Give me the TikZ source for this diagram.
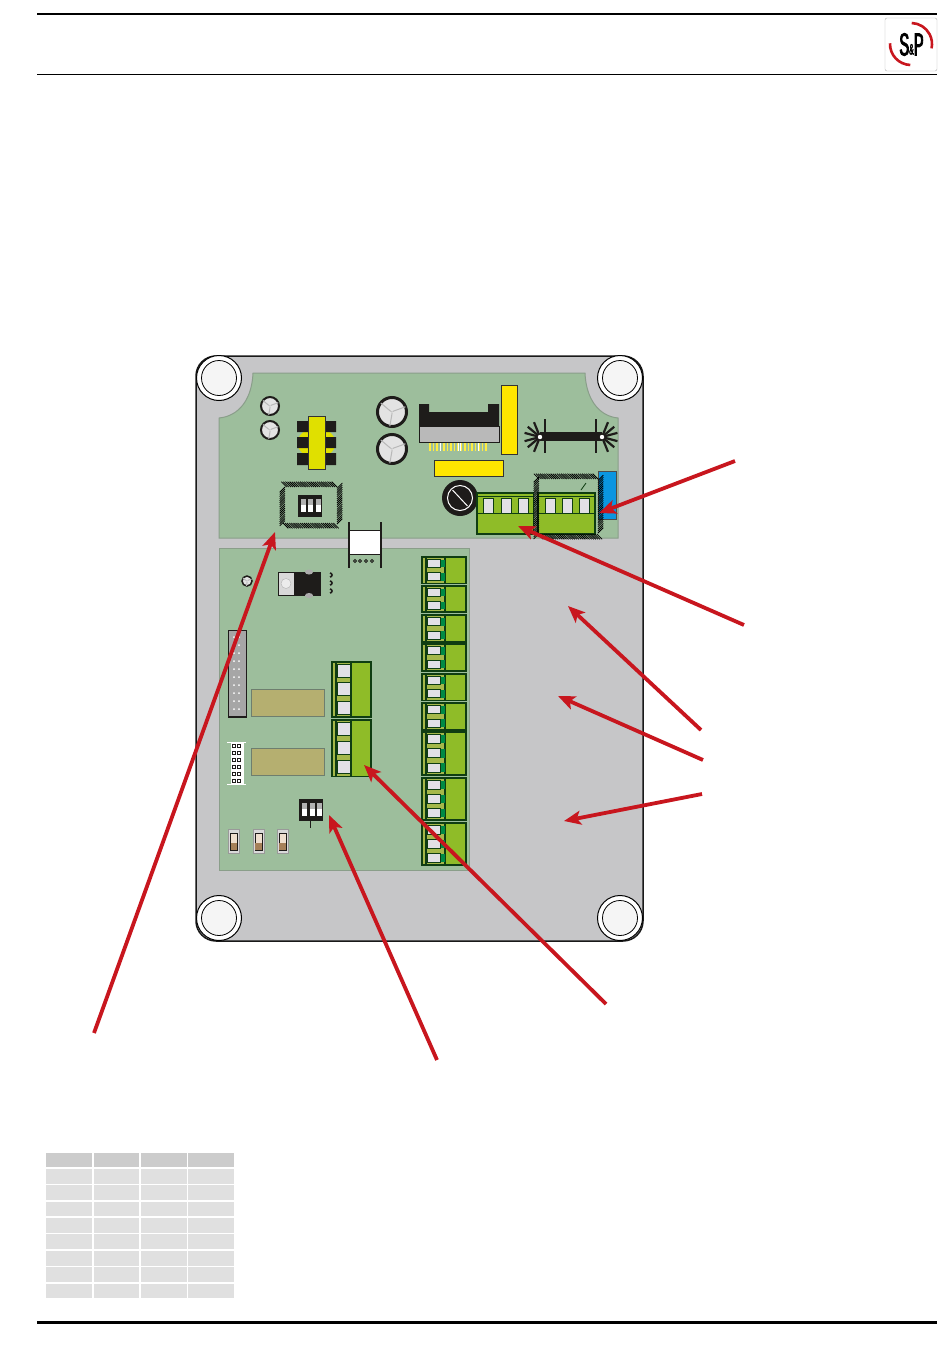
\documentclass[tikz,border=0pt]{standalone}
\usepackage{fontspec}
\setmainfont{Liberation Sans}
\newfontfamily\logofont[FakeStretch=.46,FakeBold=2.5]{Liberation Sans}
\usetikzlibrary{%
    decorations.pathreplacing,%
    arrows.meta
}
\definecolor{casegray}{HTML}{C6C6C8}
\definecolor{boardgreen}{HTML}{9DBE9C}
\definecolor{boardedge}{HTML}{8A9E8A}
\definecolor{lime}{HTML}{8FBC28}
\definecolor{limeband}{HTML}{A5B84A}
\definecolor{termedge}{HTML}{0F3D12}
\definecolor{termtab}{HTML}{008A45}
\definecolor{windowgray}{HTML}{E2E0E6}
\definecolor{partblack}{HTML}{1E1C1A}
\definecolor{yellowpart}{HTML}{FFE600}
\definecolor{coilyellow}{HTML}{E0E000}
\definecolor{relaytan}{HTML}{B5AF70}
\definecolor{leadred}{HTML}{C8161E}
\definecolor{bluepart}{HTML}{0A96E0}

% terminal block: left, middle, right x; top, bottom y; ways; tab colour; window end
\newcommand{\termblock}[8]{%
  \fill[limeband] (#1,#4) rectangle (#2,#5);
  \fill[lime] (#2,#4) rectangle (#3,#5);
  \draw[termline] (#1,#4) rectangle (#3,#5) (#2,#4)--(#2,#5) (#1+4,#4)--(#1+4,#5);
  \pgfmathsetmacro{\pitch}{(#5-#4)/#6}
  \foreach \k in {1,...,#6}{
    \pgfmathsetmacro{\wa}{#4+(\k-1)*\pitch+2.5}
    \pgfmathsetmacro{\wb}{#4+\k*\pitch-3}
    \fill[#7] (#2-5,\wa) rectangle (#2,\wb);
    \draw[termedge,line width=1pt,fill=windowgray] (#1+5,\wa) rectangle (#2-#8,\wb);
  }
}
% dip switch: top-left x, y
\newcommand{\dipswitch}[2]{%
  \fill[partblack] (#1,#2) rectangle ++(24,22);
  \foreach \k in {0,1,2}{
    \fill[gray!60] (#1+3+\k*7.5,#2+3.5) rectangle ++(5,6);
    \fill[white] (#1+3+\k*7.5,#2+9.5) rectangle ++(5,7);
  }
}
% radial capacitor: centre x, y, radius, ring width
\newcommand{\radcap}[4]{%
  \draw[partblack,line width=#4pt,fill=gray!22] (#1,#2) circle (#3pt);
  \foreach \a in {20,140,260}
    \draw[gray!55,line width=.4pt] (#1,#2) -- ++(\a:#3pt)
      (#1,#2) ++(\a+25:1.5pt) -- ++(\a:#3pt-1.5pt);
}

\begin{document}
\begin{tikzpicture}[x=1pt,y=-1pt,
 termline/.style={termedge,line width=1.2pt},
 hatchline/.style={decorate,decoration={border,angle=-45,
                    amplitude=7.5pt,segment length=2.1pt,pre length=0pt,post length=0pt},
                    black,line width=.75pt},
 redlead/.style={leadred,line width=3.8pt,-{Stealth[length=17pt,width=14pt,inset=4pt]}},
 cellgray/.style={fill=black!12},
 headgray/.style={fill=black!20}]

\useasboundingbox (0,0) rectangle (950,1360);
\fill[white] (0,0) rectangle (950,1360);

% page rules
\draw[line width=2pt] (37,14)--(937,14);
\draw[line width=1pt] (37,74.5)--(937,74.5);
\draw[line width=3pt] (37,1322)--(937,1322);

% logo
\draw[gray!60,fill=white,rounded corners=2pt] (885,18) rectangle (937,71);
\draw[leadred,line width=2.6pt] (911,44) ++(88:21pt) arc (88:-12:21pt);
\draw[leadred,line width=2.6pt] (911,44) ++(178:21pt) arc (178:268:21pt);
\node[inner sep=0pt] (logotext) at (911.5,44.5)
    {\logofont\fontsize{32}{32}\selectfont S\raisebox{1pt}{\fontsize{15}{15}\selectfont\&}P};

% enclosure
\draw[gray!20!black,line width=1.5pt,fill=casegray,rounded corners=20pt] (196,356) rectangle (643,941);
\foreach \cx/\cy in {219/378,620/378,219/918,620/918}{
  \draw[black,line width=1pt,fill=white] (\cx,\cy) circle (22.5pt);
  \draw[black,line width=.8pt,fill=white!96!black] (\cx,\cy) circle (17.5pt);
}

% boards
\draw[boardedge,line width=1pt,fill=boardgreen] (219,538)--(219,418)
  .. controls (240,416) and (252,398) .. (253,373)--(585,373)
  .. controls (586,398) and (598,416) .. (618,418)--(618,538)--cycle;
\draw[boardedge,line width=1pt,fill=boardgreen] (219,548) rectangle (469,870);

% capacitors top
\radcap{270}{406}{9}{2}
\radcap{270}{430}{9}{2}
\radcap{392}{412}{14.5}{3}
\radcap{392}{449}{14.5}{3}

% transformer
\fill[coilyellow] (316.5,443) ellipse (19pt and 15pt);
\fill[partblack] (297,421) rectangle (336,432) (297,437) rectangle (336,448) (297,453) rectangle (336,465);
\draw[black!80,line width=.6pt,fill=coilyellow] (308,416) rectangle (325,469);

% hatched pad and dip switch top
\draw[hatchline] (337,487)--(283,487);
\draw[hatchline] (337,524)--(337,485);
\draw[hatchline] (283,523)--(337,523);
\draw[hatchline] (285,487)--(285,524);
\dipswitch{297.5}{495}

% white part over the board gap
\fill[white] (349,530) rectangle (381,554);
\draw[partblack,line width=1pt] (349,530)--(381,530) (349,554)--(381,554);
\draw[partblack,line width=1.2pt] (349,522)--(349,568) (381,522)--(381,568);
\foreach \px in {355,360,366,372}
  \draw[partblack,line width=.8pt] (\px,561) circle (1.5pt);

% flat cable header
\fill[partblack] (419,426)--(419,404)--(429,404)--(429,412)--(488,412)--(488,404)--(499,404)--(499,426)--cycle;
\draw[partblack,line width=.8pt,fill=gray!55] (419,426) rectangle (499,442);
\foreach \px in {430,433.5,...,488}
  \draw[yellowpart!75!white,line width=1.8pt] (\px,443)--(\px,451);
\foreach \px in {440,458,460,478}
  \draw[white,line width=.8pt] (\px,443)--(\px,451);
\draw[black!80,line width=.8pt,fill=yellowpart] (501.5,385.5) rectangle (517.5,454);
\draw[black!80,line width=.8pt,fill=yellowpart] (434.5,460.5) rectangle (503,476.5);

% heatsink
\fill[partblack] (540,432) rectangle (602,441);
\draw[partblack,line width=2.6pt] (545,419)--(545,453) (596,419)--(596,453);
\foreach \a in {112,140,165,195,220,248}
  \draw[partblack,line width=2.2pt] (540,437)-- ++(\a:16pt);
\foreach \a in {68,40,15,-15,-40,-68}
  \draw[partblack,line width=2.2pt] (602,437)-- ++(\a:16pt);
\fill[white] (540,437) circle (2.2pt) (602,437) circle (2.2pt);

% trim pot
\fill[partblack] (460,498) circle (18pt);
\draw[white,line width=1pt] (460,498) circle (12.5pt);
\draw[white,line width=1pt] (452.5,490)--(467.5,506);

% terminal blocks top
\foreach \xa/\xb in {477/533.5,538/595}{
  \fill[lime] (\xa,493) rectangle (\xb,534);
  \draw[termline] (\xa,493) rectangle (\xb,534) (\xa,513.5)--(\xb,513.5);
  \draw[termedge,line width=.6pt] (\xa,496)--(\xb,496);
}
\foreach \wx in {483,501,518,545,562,579}
  \draw[termedge,line width=1pt,fill=windowgray] (\wx,498) rectangle ++(10.5,15);
\draw[termedge,line width=.8pt] (581,490)--(586,483);

% blue part and hatched pad
\draw[black!70,line width=.5pt,fill=bluepart] (598.5,471.5) rectangle (616.5,519);
\draw[hatchline] (598,479)--(537,479);
\draw[hatchline] (598,533)--(598,477);
\draw[hatchline] (538,534)--(600,534);
\draw[hatchline] (539,477)--(539,537);

% lower board parts
\radcap{247}{581}{5}{1.5}
\draw[partblack,line width=.6pt,fill=gray!30] (278.5,572) rectangle (294,595.5);
\draw[gray!60,fill=gray!15] (286,583.5) circle (5pt);
\fill[partblack] (294,572) rectangle (321,595.5);
\fill[gray!65] (309,572) ellipse (4pt and 2.5pt) (309,595.5) ellipse (4pt and 2.5pt);
\foreach \py in {575,583,591}
  \draw[partblack,line width=1.6pt] (330,\py-2) arc (90:-90:2pt);

% pin connectors
\draw[partblack,line width=1.5pt,fill=gray!70] (228.5,630.5) rectangle (246.5,717);
\foreach \py in {637,645,...,709}
  \fill[white] (234,\py) circle (1pt) (239,\py) circle (1pt);
\fill[white] (231,742) rectangle (244,784.5);
\draw[white,line width=1pt] (227,742)--(246,742) (227,784.5)--(246,784.5);
\foreach \py in {746,753,...,781}
  \draw[partblack,line width=.8pt] (232.5,\py-1.5) rectangle ++(3,3) (237.5,\py-1.5) rectangle ++(3,3);

% relays
\foreach \ry in {689,748}
  \draw[boardedge!80!black,line width=1pt,fill=relaytan] (251,\ry) rectangle ++(73,27);

% middle and right terminal blocks
\termblock{332}{351}{371}{662}{717}{3}{lime}{1}
\termblock{332}{351}{371}{720}{776.5}{3}{lime}{1}
\foreach \ya/\yb/\n in {557/583.5/2,586/612/2,615/642/2,644/671/2,674/700.5/2,703/730/2,732/775/3,778/820/3,823/865/3}{
  \termblock{422}{445}{466}{\ya}{\yb}{\n}{termtab}{5}
}

% lower dip switch
\dipswitch{299}{799}
\draw[partblack,line width=.6pt] (310.5,821)--(310.5,828);

% slide switches
\foreach \sx in {228.5,253,277}{
  \draw[gray!80,line width=.5pt,fill=gray!30] (\sx,829) rectangle ++(11,24);
  \draw[partblack,line width=.7pt,fill=brown!25] (\sx+2,833) rectangle ++(7,17);
  \fill[brown!60!gray] (\sx+2.4,843) rectangle ++(6.2,6.6);
}

% table
\foreach \cx in {46,93.5,141,188}{
  \fill[headgray] (\cx,1153) rectangle ++(45.5,14);
  \foreach \cy in {1169,1185,1201.5,1218,1234,1251,1267,1283.5}
    \fill[cellgray] (\cx,\cy) rectangle ++(45.5,14.5);
}

% leads
\coordinate (dipstart) at (94,1033);    \coordinate (diptip) at (275,532);
\coordinate (swstart) at (437,1060);    \coordinate (swtip) at (329,815);
\coordinate (relstart) at (606,1004);   \coordinate (reltip) at (364,765);
\coordinate (lowstart) at (702,794);    \coordinate (lowtip) at (564,821);
\coordinate (midstart) at (703,760);    \coordinate (midtip) at (558,696);
\coordinate (upstart) at (701,730);     \coordinate (uptip) at (568,606);
\coordinate (termstart) at (744,625);   \coordinate (termtip) at (518,526);
\coordinate (bluestart) at (735,461);   \coordinate (bluetip) at (599,513);
\foreach \from/\to in {dipstart/diptip,swstart/swtip,relstart/reltip,lowstart/lowtip,
                       midstart/midtip,upstart/uptip,termstart/termtip,bluestart/bluetip}
  \draw[redlead] (\from)--(\to);

\end{tikzpicture}
\end{document}
